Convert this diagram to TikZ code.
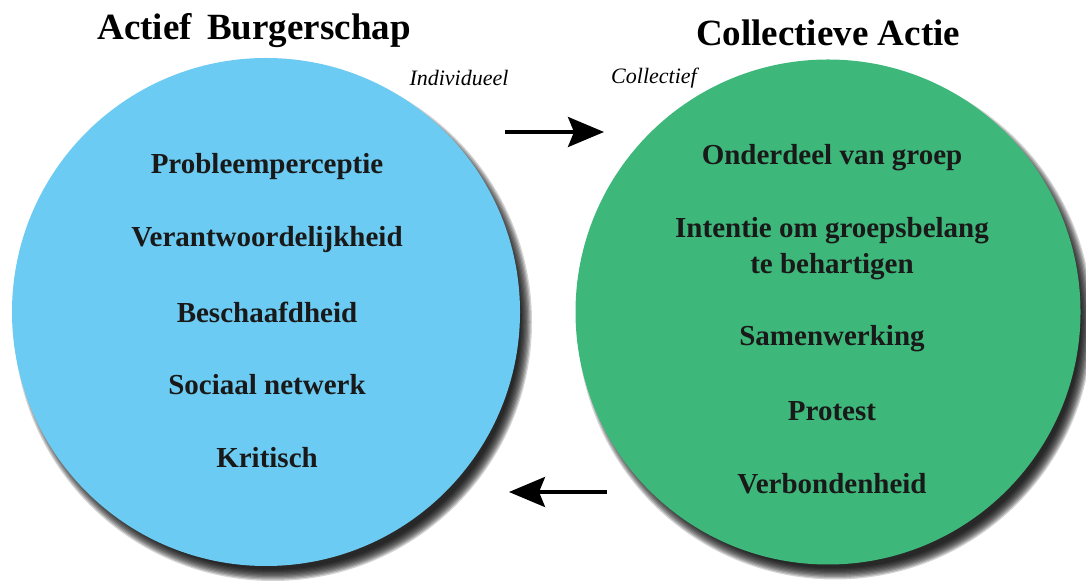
\documentclass[tikz,border=0pt]{standalone}
\usepackage{fontspec}
\setmainfont{Liberation Serif}
\usetikzlibrary{arrows.meta,backgrounds}
\definecolor{burgerblue}{RGB}{108,203,242}
\definecolor{actiegreen}{RGB}{62,184,122}
\begin{document}
\begin{tikzpicture}[
        x=0.5pt, y=-0.5pt,
        bubble/.style={circle, inner sep=0pt, minimum size=254pt},
        shade layer/.style={fill=black, opacity=0.17},
        title/.style={font=\fontsize{18.5}{22}\selectfont\bfseries},
        side/.style={font=\fontsize{11}{13}\selectfont\itshape},
        item/.style={font=\fontsize{14.5}{18}\selectfont\bfseries, align=center, text=black!90},
        arrow/.style={-{Stealth[length=18pt, width=15pt, inset=3pt]}, line width=1.7pt}
    ]
        \useasboundingbox (0,0) rectangle (1086,581);

        % circles
        \node[bubble, fill=burgerblue] (burger) at (266,312) {};
        \node[bubble, fill=actiegreen, minimum size=252.5pt] (actie) at (828,312) {};

        % soft shadows behind the circles
        \begin{scope}[on background layer]
            \foreach \c/\r in {burger/254, actie/252.5}
                \foreach \k in {0,...,9}
                    \fill[shade layer] ([shift={(7,10)}]\c.center) circle ({\r+5-1.25*\k});
        \end{scope}

        % headings
        \node[title] (burgertitle) at (254,31) {Actief\, Burgerschap};
        \node[title] (actietitle) at (828,33) {Collectieve Actie};
        \node[side] (indiv) at (459,78) {Individueel};
        \node[side] (coll) at (654,78) {Collectief};

        % left items
        \node[item] (probleem) at (267,167) {Probleemperceptie};
        \node[item] (verantw) at (267,240) {Verantwoordelijkheid};
        \node[item] (beschaafd) at (267,312) {Beschaafdheid};
        \node[item] (sociaal) at (267,385) {Sociaal netwerk};
        \node[item] (kritisch) at (267,458) {Kritisch};

        % right items
        \node[item] (onderdeel) at (832,158) {Onderdeel van groep};
        \node[item] (intentie) at (832,249) {Intentie om groepsbelang\\te behartigen};
        \node[item] (samen) at (832,339) {Samenwerking};
        \node[item] (protest) at (832,411) {Protest};
        \node[item] (verbond) at (832,484) {Verbondenheid};

        % arrows
        \coordinate (topstart) at (505,132);
        \coordinate (topend) at (604,132);
        \coordinate (botstart) at (607,492);
        \coordinate (botend) at (509,492);
        \draw[arrow] (topstart) -- (topend);
        \draw[arrow] (botstart) -- (botend);
    \end{tikzpicture}
\end{document}
